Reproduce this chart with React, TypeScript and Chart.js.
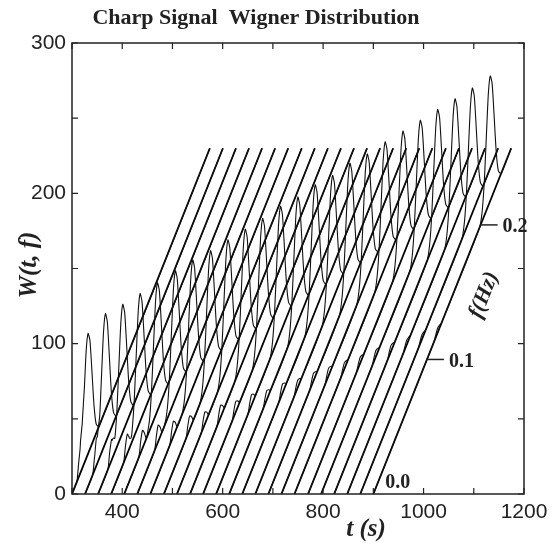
import React, { useEffect, useRef } from 'react';
import { Chart, registerables } from 'chart.js';

Chart.register(...registerables);

// ---- data ----
const sliceTimes = [300, 326, 352, 378, 404, 430, 456, 483, 509, 535, 561, 587, 613, 639, 665, 691, 717, 743, 770, 796, 822, 848, 874, 900];
const peakFreqs = [0.030, 0.038, 0.046, 0.054, 0.062, 0.071, 0.079, 0.087, 0.095, 0.103, 0.111, 0.120, 0.128, 0.136, 0.144, 0.152, 0.160, 0.169, 0.177, 0.185, 0.193, 0.201, 0.209, 0.218];
const peakHeights = [80, 86, 85, 85, 85, 85, 85, 84, 84, 84, 84, 84, 83, 84, 83, 84, 83, 83, 83, 83, 83, 83, 83, 83];
const bumpFreqs = [0.016, 0.021, 0.025, 0.030, 0.034, 0.039, 0.043, 0.048, 0.052, 0.057, 0.061, 0.066, 0.070, 0.075, 0.079, 0.084, 0.088, 0.093, 0.097, 0.102, 0.106, 0.111, 0.115, 0.120];
const bumpHeights = [11, 14, 14, 13, 12, 11, 10, 9, 8, 8, 7, 7, 6, 6, 5, 5, 5, 4, 4, 4, 4, 3, 3, 3];
const peakProfileOffsets = [-0.02, -0.015, -0.011, -0.007, -0.0035, 0, 0.0035, 0.007, 0.011, 0.015, 0.02];
const peakProfileShape = [0, 0.08, 0.28, 0.62, 0.9, 1, 0.9, 0.62, 0.28, 0.08, 0];
const bumpProfileOffsets = [-0.007, -0.0035, 0, 0.0035, 0.007];
const bumpProfileShape = [0, 0.6, 1, 0.6, 0];
const freqTicks = [0.0, 0.1, 0.2];
const freqTickLabels = ['0.0', '0.1', '0.2'];

// oblique projection of the frequency axis (t units and W units per Hz)
const T_PER_HZ = 1068;
const W_PER_HZ = 895;
const F_MAX = 0.257;

function lookup(offsets: number[], shape: number[], d: number): number {
  if (d <= offsets[0] || d >= offsets[offsets.length - 1]) return 0;
  for (let k = 0; k < offsets.length - 1; k++) {
    if (d >= offsets[k] && d <= offsets[k + 1]) {
      const u = (d - offsets[k]) / (offsets[k + 1] - offsets[k]);
      return shape[k] + u * (shape[k + 1] - shape[k]);
    }
  }
  return 0;
}

function buildDatasets() {
  const ds: any[] = [];
  sliceTimes.forEach((t, i) => {
    const fp = peakFreqs[i];
    const fb = bumpFreqs[i];
    const keys = new Set<number>([0, F_MAX]);
    peakProfileOffsets.forEach((o) => keys.add(+(fp + o).toFixed(5)));
    bumpProfileOffsets.forEach((o) => keys.add(+(fb + o).toFixed(5)));
    const fs = Array.from(keys).filter((f) => f >= 0 && f <= F_MAX).sort((a, b) => a - b);
    const pts = fs.map((f) => {
      const w =
        peakHeights[i] * lookup(peakProfileOffsets, peakProfileShape, f - fp) +
        bumpHeights[i] * lookup(bumpProfileOffsets, bumpProfileShape, f - fb);
      return { x: t + T_PER_HZ * f, y: W_PER_HZ * f + w };
    });
    ds.push({
      data: pts,
      showLine: true,
      borderColor: '#111',
      borderWidth: 1.1,
      pointRadius: 0,
      tension: 0.2,
    });
  });
  sliceTimes.forEach((t) => {
    ds.push({
      data: [
        { x: t, y: 0 },
        { x: t + T_PER_HZ * F_MAX, y: W_PER_HZ * F_MAX },
      ],
      showLine: true,
      borderColor: '#000',
      borderWidth: 1.8,
      pointRadius: 0,
      tension: 0,
    });
  });
  return ds;
}

const decorPlugin = {
  id: 'decor',
  afterDraw(chart: any) {
    const { ctx, chartArea: a, scales } = chart;
    const xs = scales.x;
    const ys = scales.y;
    ctx.save();
    // frame
    ctx.strokeStyle = '#222';
    ctx.lineWidth = 1.5;
    ctx.strokeRect(a.left, a.top, a.right - a.left, a.bottom - a.top);
    // inward ticks
    ctx.lineWidth = 1.2;
    const tl = 6;
    xs.ticks.forEach((tk: any) => {
      const px = xs.getPixelForValue(tk.value);
      ctx.beginPath();
      ctx.moveTo(px, a.bottom);
      ctx.lineTo(px, a.bottom - tl);
      ctx.moveTo(px, a.top);
      ctx.lineTo(px, a.top + tl);
      ctx.stroke();
    });
    ys.ticks.forEach((tk: any) => {
      const py = ys.getPixelForValue(tk.value);
      ctx.beginPath();
      ctx.moveTo(a.left, py);
      ctx.lineTo(a.left + tl, py);
      ctx.moveTo(a.right, py);
      ctx.lineTo(a.right - tl, py);
      ctx.stroke();
    });

    ctx.fillStyle = '#222';
    // title
    ctx.font = 'bold 22px "Liberation Serif", serif';
    ctx.textAlign = 'center';
    ctx.textBaseline = 'middle';
    ctx.fillText('Charp Signal  Wigner Distribution', 256, 18);

    // axis titles
    ctx.font = 'italic bold 25px "Liberation Serif", serif';
    ctx.fillText('t (s)', 366, 530);
    ctx.save();
    ctx.translate(30, 265);
    ctx.rotate(-Math.PI / 2);
    ctx.fillText('W(t, f)', 0, 0);
    ctx.restore();

    // oblique frequency axis labels on the last slice
    const tLast = sliceTimes[sliceTimes.length - 1];
    ctx.font = 'bold 20px "Liberation Serif", serif';
    ctx.textAlign = 'left';
    ctx.lineWidth = 1.5;
    freqTicks.forEach((f, k) => {
      const px = xs.getPixelForValue(tLast + T_PER_HZ * f);
      const py = ys.getPixelForValue(W_PER_HZ * f);
      if (f === 0) {
        ctx.fillText(freqTickLabels[k], px + 12, py - 11);
      } else {
        ctx.beginPath();
        ctx.moveTo(px, py);
        ctx.lineTo(px + 17, py);
        ctx.stroke();
        ctx.fillText(freqTickLabels[k], px + 22, py + 2);
      }
    });
    const p0x = xs.getPixelForValue(tLast);
    const p0y = ys.getPixelForValue(0);
    const p1x = xs.getPixelForValue(tLast + T_PER_HZ * F_MAX);
    const p1y = ys.getPixelForValue(W_PER_HZ * F_MAX);
    const ang = Math.atan2(p1y - p0y, p1x - p0x);
    ctx.save();
    ctx.translate(484, 295);
    ctx.rotate(ang);
    ctx.textAlign = 'center';
    ctx.font = 'italic bold 22px "Liberation Serif", serif';
    ctx.fillText('f(Hz)', 0, 0);
    ctx.restore();
    ctx.restore();
  },
};

export default function App() {
  const ref = useRef<HTMLCanvasElement | null>(null);
  useEffect(() => {
    if (!ref.current) return;
    const chart = new Chart(ref.current, {
      type: 'scatter',
      data: { datasets: buildDatasets() },
      options: {
        animation: false,
        responsive: false,
        devicePixelRatio: 1,
        layout: { padding: { top: 43, right: 33, left: 0, bottom: 0 } },
        plugins: { legend: { display: false }, tooltip: { enabled: false } },
        scales: {
          x: {
            type: 'linear',
            min: 300,
            max: 1200,
            grid: { display: false, drawTicks: false },
            border: { display: false },
            afterFit: (s: any) => { s.height = 52; },
            ticks: {
              stepSize: 100,
              padding: 6,
              maxRotation: 0,
              autoSkip: false,
              color: '#222',
              font: { family: '"Liberation Sans", Arial, sans-serif', size: 21 },
              callback: (v: any) => (v >= 400 && v % 200 === 0 ? String(v) : ''),
            },
          },
          y: {
            type: 'linear',
            min: 0,
            max: 300,
            grid: { display: false, drawTicks: false },
            border: { display: false },
            afterFit: (s: any) => { s.width = 72; },
            ticks: {
              stepSize: 50,
              padding: 6,
              autoSkip: false,
              color: '#222',
              font: { family: '"Liberation Sans", Arial, sans-serif', size: 21 },
              callback: (v: any) => (v % 100 === 0 ? String(v) : ''),
            },
          },
        },
      },
      plugins: [decorPlugin],
    });
    return () => chart.destroy();
  }, []);
  return (
    <div style={{ position: 'fixed', left: 0, top: 0, width: 557, height: 546, background: '#fff' }}>
      <canvas ref={ref} width={557} height={546} style={{ display: 'block' }} />
    </div>
  );
}
